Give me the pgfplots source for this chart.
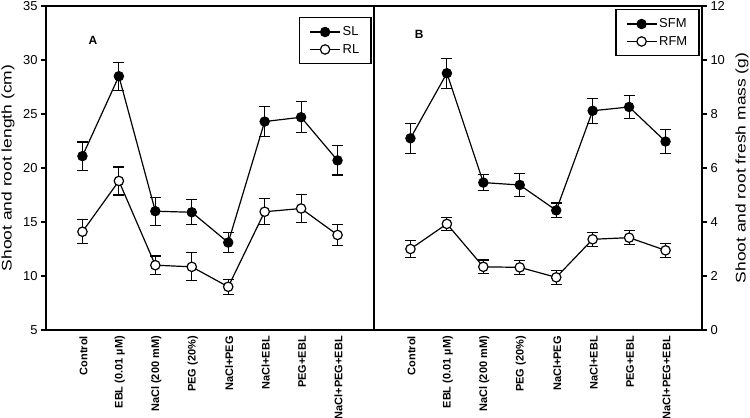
\documentclass[border=0pt]{standalone}
\usepackage{fontspec}
\setmainfont{Liberation Sans}
\usepackage{pgfplots}
\usepackage{pgfplotstable}
\pgfplotsset{compat=1.18}

% Means and standard errors for the eight treatments
% SL/RL: shoot and root length (cm); SFM/RFM: shoot and root fresh mass (g)
\pgfplotstableread{
x SL   SLe  RL    RLe  SFM  SFMe RFM  RFMe
0 21.1 1.30 14.1  1.10 7.10 0.55 3.00 0.30
1 28.5 1.30 18.8  1.30 9.51 0.56 3.93 0.24
2 16.0 1.30 11.0  0.85 5.46 0.30 2.34 0.25
3 15.9 1.15 10.85 1.30 5.37 0.42 2.32 0.25
4 13.1 0.90 9.0   0.70 4.43 0.27 1.95 0.25
5 24.3 1.40 15.95 1.20 8.12 0.46 3.36 0.26
6 24.7 1.45 16.25 1.30 8.26 0.43 3.42 0.26
7 20.7 1.35 13.8  1.00 6.98 0.44 2.95 0.25
}\growth

\newcommand\ylab[1]{\scalebox{1.25}[1]{#1}}

\pgfplotsset{
  panel/.style={
    width=328bp, height=324bp, scale only axis,
    xmin=-1, xmax=8, xtick={0,...,7},
    xticklabels={Control, EBL (0.01 µM), NaCl (200 mM), PEG (20\%), NaCl+PEG, NaCl+EBL, PEG+EBL, NaCl+PEG+EBL},
    x tick label style={rotate=90, anchor=east, font=\fontsize{11}{12}\selectfont\bfseries, inner sep=1bp, yshift=-1bp},
    xtick style={draw=none},
    tick align=outside, major tick length=5bp,
    y tick style={line width=1.3bp, black},
    y tick label style={font=\fontsize{13}{14}\selectfont},
    /pgf/number format/assume math mode=true,
    axis line style={line width=1.5bp},
    every axis plot/.append style={line width=1.2bp, black},
    error bars/error bar style={line width=1.2bp},
    error bars/error mark options={rotate=90, mark size=5.5bp, line width=1.2bp},
    legend style={draw=black, line width=1.5bp, font=\fontsize{13}{14}\selectfont,
      inner xsep=10bp, inner ysep=7bp, cells={anchor=west}, row sep=3bp},
    legend image code/.code={\draw[mark repeat=2, mark phase=2, #1]
      plot coordinates {(0bp,0bp) (15bp,0bp) (30bp,0bp)};},
  },
  filled/.style={mark=*, mark size=4.7bp, mark options={fill=black, draw=black, line width=1bp}},
  hollow/.style={mark=*, mark size=4.7bp, mark options={fill=white, draw=black, line width=1.2bp}},
}

\begin{document}
\begin{tikzpicture}
\useasboundingbox (-46bp,-88bp) rectangle (704bp,330bp);

% Panel A: lengths
\begin{axis}[panel,
  at={(0bp,0bp)}, anchor=south west,
  ymin=5, ymax=35, ytick={5,10,...,35}, ytick pos=left,
  ylabel={\ylab{Shoot and root length (cm)}},
  every axis y label/.style={at={(axis description cs:0,0.5)}, xshift=-38bp,
    rotate=90, anchor=center, font=\fontsize{14}{15}\selectfont},
  legend style={at={(1,1)}, anchor=north east, xshift=-2bp, yshift=-11bp},
]
\addplot[filled, error bars/.cd, y dir=both, y explicit]
  table[x=x, y=SL, y error=SLe]{\growth};
\addlegendentry{SL}
\addplot[hollow, error bars/.cd, y dir=both, y explicit]
  table[x=x, y=RL, y error=RLe]{\growth};
\addlegendentry{RL}
\node[font=\fontsize{12}{13}\selectfont\bfseries] at (rel axis cs:0.143,0.895) {A};
\end{axis}

% Panel B: fresh mass
\begin{axis}[panel,
  at={(328bp,0bp)}, anchor=south west,
  ymin=0, ymax=12, ytick={0,2,...,12}, ytick pos=right, yticklabel pos=right,
  ylabel={\ylab{Shoot and root fresh mass (g)}},
  every axis y label/.style={at={(axis description cs:1,0.5)}, xshift=40bp,
    rotate=90, anchor=center, font=\fontsize{14}{15}\selectfont},
  legend style={at={(1,1)}, anchor=north east, xshift=-2bp, yshift=-3bp},
]
\addplot[filled, error bars/.cd, y dir=both, y explicit]
  table[x=x, y=SFM, y error=SFMe]{\growth};
\addlegendentry{SFM}
\addplot[hollow, error bars/.cd, y dir=both, y explicit]
  table[x=x, y=RFM, y error=RFMe]{\growth};
\addlegendentry{RFM}
\node[font=\fontsize{12}{13}\selectfont\bfseries] at (rel axis cs:0.138,0.913) {B};
\end{axis}
\end{tikzpicture}
\end{document}
